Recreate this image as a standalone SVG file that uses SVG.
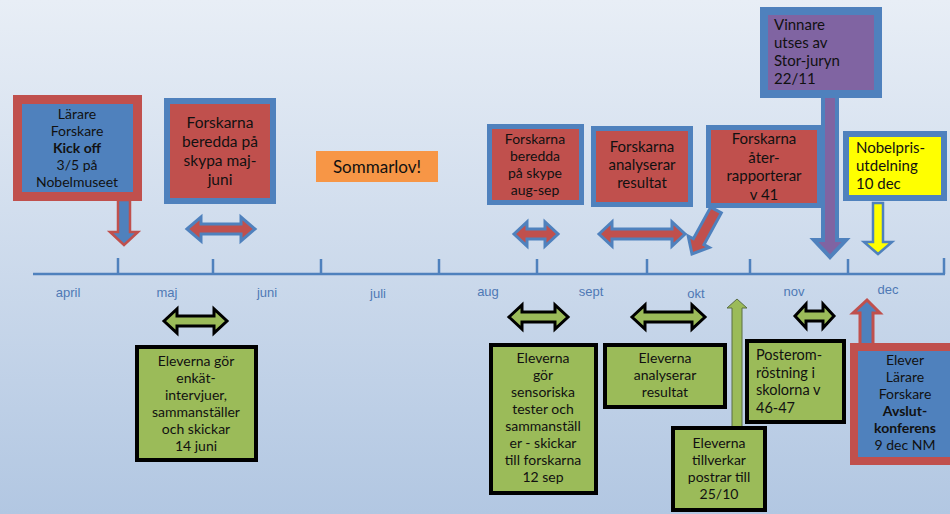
<svg xmlns="http://www.w3.org/2000/svg" width="950" height="514" viewBox="0 0 950 514">
<defs>
<linearGradient id="bg" x1="0" y1="0" x2="0" y2="1">
<stop offset="0" stop-color="#e8eef6"/>
<stop offset="1" stop-color="#b2c7e2"/>
</linearGradient>
<style>
.t{font-family:Lato,"Open Sans","DejaVu Sans",sans-serif;fill:#111;text-anchor:middle}
.tl{font-family:Lato,"Open Sans","DejaVu Sans",sans-serif;fill:#111;text-anchor:start}
.b{font-weight:bold}
.m{font-family:"Liberation Sans",Arial,sans-serif;font-size:13px;fill:#4f79b5;text-anchor:middle}
.axis{stroke:#4f81bd;stroke-width:2.5;fill:none}
.red{fill:#c0504d;stroke:#4f81bd}
.grn{fill:#9bbb59;stroke:#000;stroke-width:4}
.ga{fill:#9bbb59;stroke:#000;stroke-width:3;stroke-linejoin:miter}
.ra{fill:#c0504d;stroke:#4f81bd;stroke-width:3}
</style>
</defs>
<rect width="950" height="514" fill="url(#bg)"/>

<g id="timeline">
<path class="axis" d="M33 274H945M118 258V274M213 259V274M321 259V274M439 259V274M537 259V274M647 259V274M750 259V274M848 259V274M944 258V274"/>
<text class="m" x="68" y="297">april</text>
<text class="m" x="167" y="297">maj</text>
<text class="m" x="267" y="297">juni</text>
<text class="m" x="378" y="298">juli</text>
<text class="m" x="488" y="296">aug</text>
<text class="m" x="591" y="296">sept</text>
<text class="m" x="696" y="298">okt</text>
<text class="m" x="794" y="296">nov</text>
<text class="m" x="888" y="294">dec</text>
</g>

<g id="connectors">
<polygon points="118,200 130,200 130,232 138,232 124,245 110,232 118,232" fill="#4f81bd" stroke="#c0504d" stroke-width="2.5"/>
<polygon class="ra" points="187,229 201,217 201,224 241,224 241,217 255,229 241,241 241,234 201,234 201,241"/>
<polygon class="ra" points="514,234 527,222 527,229 545,229 545,222 558,234 545,246 545,239 527,239 527,246"/>
<polygon class="ra" points="599,234 612,222 612,229 672,229 672,222 685,234 672,246 672,239 612,239 612,246"/>
<polygon class="ra" points="710.7,207.1 693.4,238.8 688.2,236.0 692,254 709.2,247.4 704.0,244.6 721.3,212.9"/>
<polygon points="823,94 837,94 837,240 846,240 830,257 814,240 823,240" fill="#8064a2" stroke="#4f81bd" stroke-width="4"/>
<polygon points="873,203 883,203 883,242 892,242 878,254 864,242 873,242" fill="#ffff00" stroke="#4f81bd" stroke-width="2.5"/>
<polygon class="ga" points="164,321 177,309 177,316 214,316 214,309 227,321 214,333 214,326 177,326 177,333"/>
<polygon class="ga" points="509,317 522,305 522,312 555,312 555,305 568,317 555,329 555,322 522,322 522,329"/>
<polygon class="ga" points="632,317 645,305 645,312 692,312 692,305 705,317 692,329 692,322 645,322 645,329"/>
<polygon class="ga" points="795,316 806,304 806,311 823,311 823,304 834,316 823,328 823,321 806,321 806,328"/>
<polygon points="732,427 742,427 742,308 747,308 737,299 727,308 732,308" fill="#9bbb59" stroke="#5b6e45" stroke-width="1"/>
<polygon points="860,345 873,345 873,313 880,313 867,300 853,313 860,313" fill="#4f81bd" stroke="#c0504d" stroke-width="3"/>
</g>

<g id="kickoff">
<rect x="17.5" y="99.5" width="120" height="97" fill="#4f81bd" stroke="#c0504d" stroke-width="9"/>
<text class="t" font-size="14"><tspan x="77" y="119">Lärare</tspan><tspan x="77" y="136">Forskare</tspan><tspan x="77" y="153" class="b">Kick off</tspan><tspan x="77" y="170">3/5 på</tspan><tspan x="77" y="187">Nobelmuseet</tspan></text>
</g>

<g id="skypa-maj-juni">
<rect class="red" x="167" y="101" width="106" height="100" stroke-width="6"/>
<text class="t" font-size="15.5"><tspan x="220" y="128">Forskarna</tspan><tspan x="220" y="147">beredda på</tspan><tspan x="220" y="166">skypa maj-</tspan><tspan x="220" y="185">juni</tspan></text>
</g>

<g id="sommarlov">
<rect x="316" y="151" width="122" height="31" fill="#f79646"/>
<text class="t" font-size="17" x="377" y="173">Sommarlov!</text>
</g>

<g id="skype-aug-sep">
<rect class="red" x="489.5" y="126.5" width="92" height="76" stroke-width="5"/>
<text class="t" font-size="14"><tspan x="535" y="144">Forskarna</tspan><tspan x="535" y="161">beredda</tspan><tspan x="535" y="178">på skype</tspan><tspan x="535" y="195">aug-sep</tspan></text>
</g>

<g id="analyserar">
<rect class="red" x="593.5" y="128.5" width="97" height="76" stroke-width="5"/>
<text class="t" font-size="15"><tspan x="642" y="152">Forskarna</tspan><tspan x="642" y="170">analyserar</tspan><tspan x="642" y="188">resultat</tspan></text>
</g>

<g id="aterrapporterar">
<rect class="red" x="708.5" y="127.5" width="111" height="78" stroke-width="5"/>
<text class="t" font-size="15"><tspan x="764" y="144">Forskarna</tspan><tspan x="764" y="163">åter-</tspan><tspan x="764" y="181">rapporterar</tspan><tspan x="764" y="200">v 41</tspan></text>
</g>

<g id="vinnare">
<rect x="764" y="11" width="114" height="83" fill="#8064a2" stroke="#4f81bd" stroke-width="8"/>
<text class="tl" font-size="15"><tspan x="774" y="30">Vinnare</tspan><tspan x="774" y="48">utses av</tspan><tspan x="774" y="66">Stor-juryn</tspan><tspan x="774" y="84">22/11</tspan></text>
</g>

<g id="nobelpris">
<rect x="846" y="134" width="98" height="64" fill="#ffff00" stroke="#4f81bd" stroke-width="6"/>
<text class="tl" font-size="15"><tspan x="856" y="153">Nobelpris-</tspan><tspan x="856" y="171">utdelning</tspan><tspan x="856" y="189">10 dec</tspan></text>
</g>

<g id="enkat">
<rect class="grn" x="137" y="347" width="119" height="113"/>
<text class="t" font-size="14"><tspan x="196" y="366">Eleverna gör</tspan><tspan x="196" y="383">enkät-</tspan><tspan x="196" y="400">intervjuer,</tspan><tspan x="196" y="417">sammanställer</tspan><tspan x="196" y="434">och skickar</tspan><tspan x="196" y="451">14 juni</tspan></text>
</g>

<g id="sensoriska">
<rect class="grn" x="491" y="345" width="105" height="148"/>
<text class="t" font-size="14"><tspan x="543" y="363">Eleverna</tspan><tspan x="543" y="380">gör</tspan><tspan x="543" y="397">sensoriska</tspan><tspan x="543" y="414">tester och</tspan><tspan x="543" y="431">sammanställ</tspan><tspan x="543" y="448">er - skickar</tspan><tspan x="543" y="465">till forskarna</tspan><tspan x="543" y="482">12 sep</tspan></text>
</g>

<g id="elever-analyserar">
<rect class="grn" x="605" y="345" width="120" height="62"/>
<text class="t" font-size="14"><tspan x="665" y="363">Eleverna</tspan><tspan x="665" y="380">analyserar</tspan><tspan x="665" y="397">resultat</tspan></text>
</g>

<g id="postrar">
<rect class="grn" x="673" y="428" width="92" height="82"/>
<text class="t" font-size="14"><tspan x="719" y="448">Eleverna</tspan><tspan x="719" y="465">tillverkar</tspan><tspan x="719" y="482">postrar till</tspan><tspan x="719" y="499">25/10</tspan></text>
</g>

<g id="posteromrostning">
<rect class="grn" x="747" y="341" width="97" height="81"/>
<text class="tl" font-size="14.5"><tspan x="756" y="360">Posterom-</tspan><tspan x="756" y="377.5">röstning i</tspan><tspan x="756" y="395">skolorna v</tspan><tspan x="756" y="412.5">46-47</tspan></text>
</g>

<g id="avslutkonferens">
<rect x="854" y="347" width="100" height="114" fill="#4f81bd" stroke="#c0504d" stroke-width="8"/>
<text class="t" font-size="14"><tspan x="905" y="365">Elever</tspan><tspan x="905" y="382">Lärare</tspan><tspan x="905" y="399">Forskare</tspan><tspan x="905" y="416" class="b">Avslut-</tspan><tspan x="905" y="433" class="b">konferens</tspan><tspan x="905" y="450">9 dec NM</tspan></text>
</g>
</svg>
